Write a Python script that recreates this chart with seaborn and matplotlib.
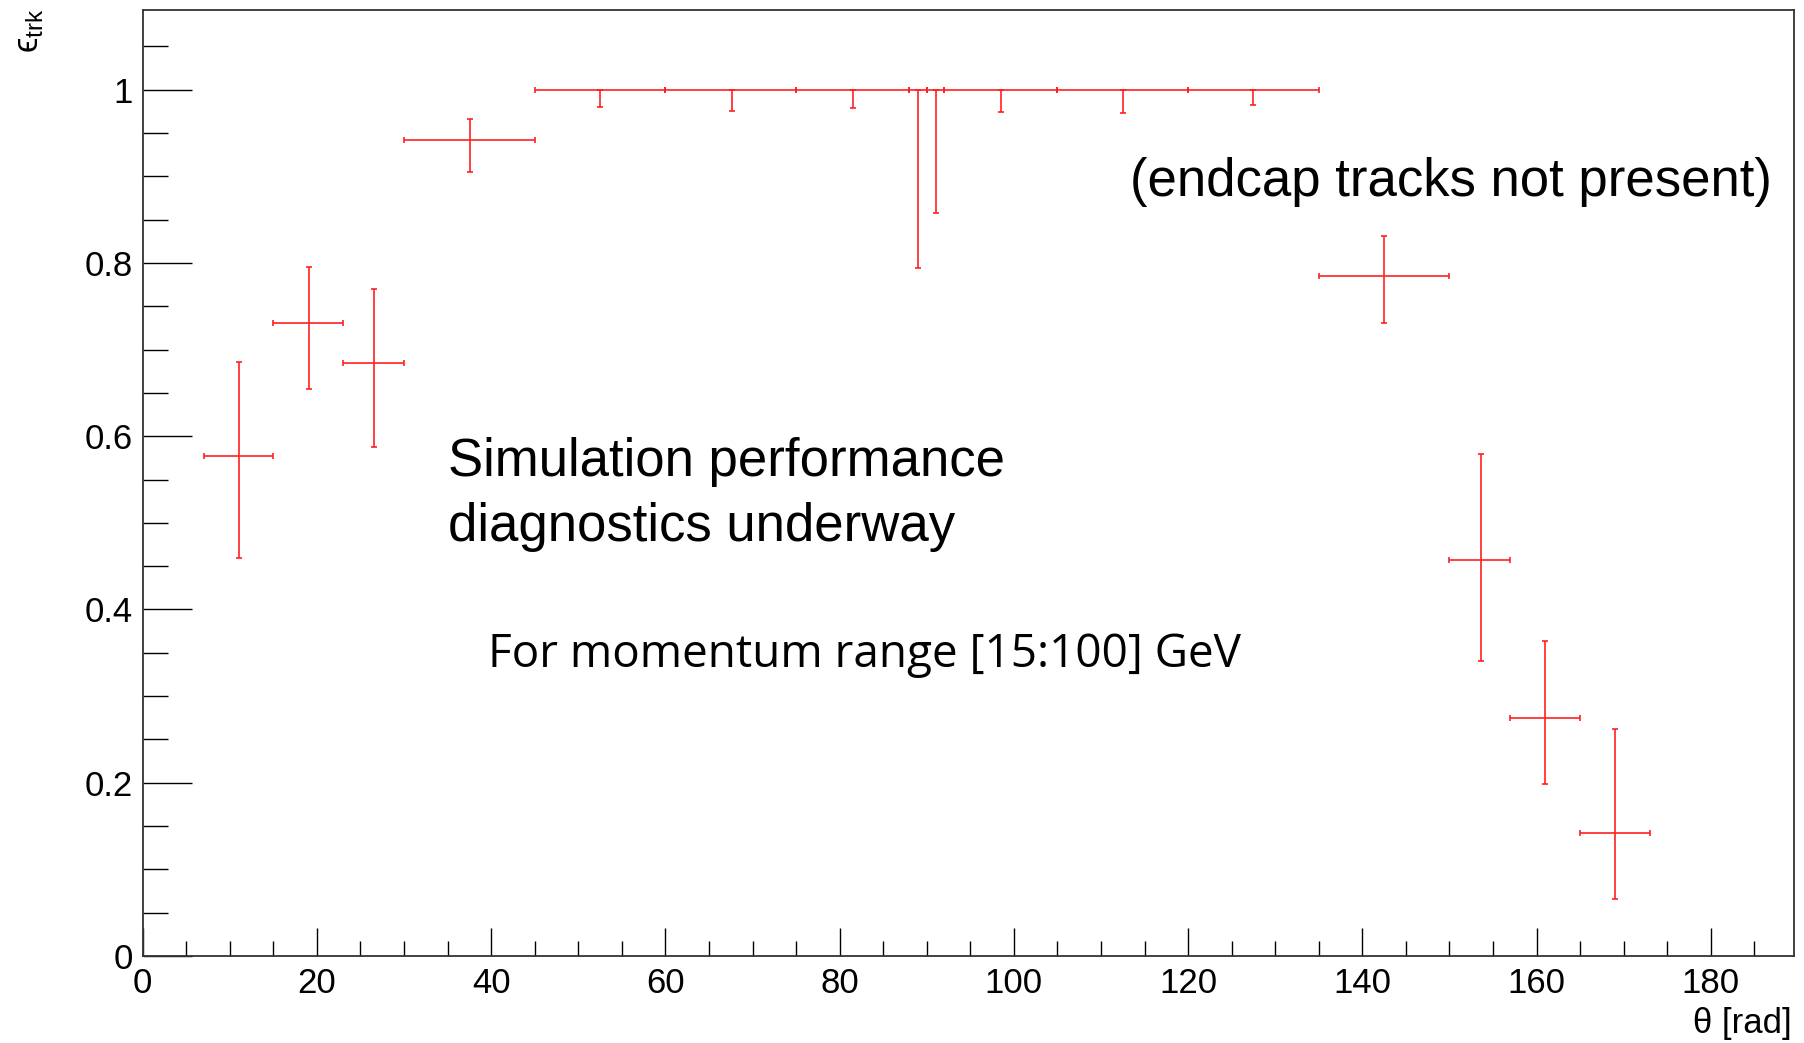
import matplotlib
matplotlib.use("Agg")
import matplotlib.pyplot as plt
from matplotlib.ticker import MultipleLocator, FixedLocator, FixedFormatter
import numpy as np
import pandas as pd
import seaborn as sns

# ---------------- data ----------------
theta_center = [11.05, 19.05, 26.6, 37.55, 52.5, 67.6, 81.55, 89.05,
                91.05, 98.5, 112.5, 127.5, 142.5, 153.6, 161.0, 169.0]
bin_low = [7, 15, 23, 30, 45, 60, 75, 88, 90, 92, 105, 120, 135, 150, 157, 165]
bin_high = [15, 23, 30, 45, 60, 75, 88, 90, 92, 105, 120, 135, 150, 157, 165, 173]
efficiency = [0.577, 0.731, 0.685, 0.9415, 1.0, 1.0, 1.0, 1.0,
              1.0, 1.0, 1.0, 1.0, 0.785, 0.4575, 0.2747, 0.142]
eff_low = [0.4598, 0.6549, 0.5876, 0.905, 0.9805, 0.9754, 0.9789, 0.7938,
           0.8573, 0.9746, 0.9727, 0.982, 0.7307, 0.3409, 0.1989, 0.0662]
eff_high = [0.686, 0.7957, 0.7703, 0.9665, 1.0, 1.0, 1.0, 1.0,
            1.0, 1.0, 1.0, 1.0, 0.8315, 0.5791, 0.3632, 0.262]

y_tick_values = [0, 0.2, 0.4, 0.6, 0.8, 1.0]
y_tick_labels = ["0", "0.2", "0.4", "0.6", "0.8", "1"]
x_tick_values = [0, 20, 40, 60, 80, 100, 120, 140, 160, 180]
x_tick_labels = ["0", "20", "40", "60", "80", "100", "120", "140", "160", "180"]

df = pd.DataFrame({
    "theta": theta_center, "lo": bin_low, "hi": bin_high,
    "eff": efficiency, "elo": eff_low, "ehi": eff_high,
})

# ---------------- style ----------------
sns.set_theme(style="ticks")
plt.rcParams["font.family"] = ["Liberation Sans", "DejaVu Sans"]
plt.rcParams["mathtext.fontset"] = "custom"
plt.rcParams["mathtext.rm"] = "Liberation Sans"
plt.rcParams["mathtext.it"] = "Liberation Sans:italic"
plt.rcParams["text.color"] = "black"
plt.rcParams["axes.labelcolor"] = "black"
plt.rcParams["xtick.color"] = "black"
plt.rcParams["ytick.color"] = "black"

W, H = 1804, 1043
fig = plt.figure(figsize=(W / 100, H / 100), dpi=100)
fig.patch.set_facecolor("white")

left, right, top, bottom = 142.7, 1793.6, 10.4, 956.0
ax = fig.add_axes([left / W, (H - bottom) / H, (right - left) / W, (bottom - top) / H])
ax.set_facecolor("white")

xerr = np.vstack([df["theta"] - df["lo"], df["hi"] - df["theta"]])
yerr = np.vstack([df["eff"] - df["elo"], df["ehi"] - df["eff"]])
ax.errorbar(df["theta"], df["eff"], xerr=xerr, yerr=yerr, fmt="none",
            ecolor="#ff2020", elinewidth=1.2, capsize=2.2, capthick=1.2)

ax.set_xlim(0, 189.5)
ax.set_ylim(0, 1.0915)

ax.yaxis.set_major_locator(FixedLocator(y_tick_values))
ax.yaxis.set_major_formatter(FixedFormatter(y_tick_labels))
ax.yaxis.set_minor_locator(MultipleLocator(0.05))
ax.xaxis.set_major_locator(FixedLocator(x_tick_values))
ax.xaxis.set_major_formatter(FixedFormatter(x_tick_labels))
ax.xaxis.set_minor_locator(MultipleLocator(5))

ax.tick_params(axis="both", which="both", direction="in", colors="black",
               labelcolor="black", labelsize=25, top=False, right=False)
ax.tick_params(axis="y", which="major", length=35, width=1.0, pad=7)
ax.tick_params(axis="y", which="minor", length=18, width=1.0)
ax.tick_params(axis="x", which="major", length=20, width=1.0, pad=8)
ax.tick_params(axis="x", which="minor", length=10.8, width=1.0)

for sp in ax.spines.values():
    sp.set_color("#333333")
    sp.set_linewidth(1.3)

# axis titles (ROOT style: at the ends of the axes)
fig.text(1792 / W, (H - 1040) / H, "θ [rad]", ha="right", va="bottom",
         fontsize=25, color="black")
fig.text(30 / W, 1 - 8 / H, "ϵ$_{\\mathrm{trk}}$", rotation=90, ha="center",
         va="top", fontsize=25, color="black")

# annotations
ax.text(35.0, 0.5535, "Simulation performance", fontsize=38, ha="left",
        va="baseline", color="black")
ax.text(35.0, 0.4790, "diagnostics underway", fontsize=38, ha="left",
        va="baseline", color="black")
ax.text(39.6, 0.3336, "For momentum range [15:100] GeV", fontsize=33,
        family=["Open Sans", "DejaVu Sans"], ha="left", va="baseline", color="black")
ax.text(113.3, 0.877, "(endcap tracks not present)", fontsize=38, ha="left",
        va="baseline", color="black")

fig.savefig("out.png", dpi=100, facecolor="white")
